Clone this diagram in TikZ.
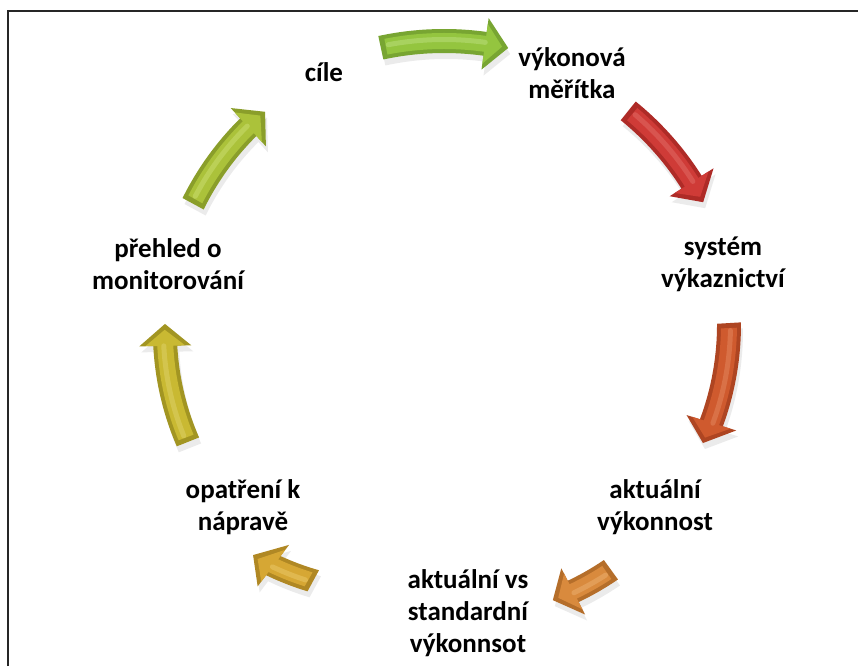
\documentclass[tikz,border=0pt]{standalone}
\usepackage{fontspec}
\setmainfont{Carlito}

% arrow colours: body, bevel edge, highlight
\definecolor{ca}{HTML}{94C53F}\definecolor{cadark}{HTML}{78A532}\definecolor{calight}{HTML}{B9DE7A}
\definecolor{cb}{HTML}{CF3B37}\definecolor{cbdark}{HTML}{AE2B27}\definecolor{cblight}{HTML}{E06A64}
\definecolor{cc}{HTML}{CF5A2E}\definecolor{ccdark}{HTML}{AE4522}\definecolor{cclight}{HTML}{E2845C}
\definecolor{cd}{HTML}{D98A3D}\definecolor{cddark}{HTML}{B56E2A}\definecolor{cdlight}{HTML}{EBAE6E}
\definecolor{ce}{HTML}{D6A734}\definecolor{cedark}{HTML}{B08824}\definecolor{celight}{HTML}{E9C766}
\definecolor{cf}{HTML}{C9B932}\definecolor{cfdark}{HTML}{A29522}\definecolor{cflight}{HTML}{DDD066}
\definecolor{cg}{HTML}{ABC23A}\definecolor{cgdark}{HTML}{8A9E2A}\definecolor{cglight}{HTML}{C9DC6E}

% radius along an arrow, interpolated between tail and tip
\newcommand\rad[1]{\rA+(\rT-\rA)*((#1)-\aA)/(\aT-\aA)}

% outline of a curved block arrow around the cycle centre
% #1 start angle of the tail, #2 half shaft width, #3 half head width, #4 tip pullback
\newcommand\arrpath[4]{%
  plot[domain=#1:\aB,samples=30] (\x:{\rad{\x}+#2})
  -- (\aB:{\rB+#3}) -- (\aT+#4:{\rT}) -- (\aB:{\rB-#3})
  -- plot[domain=\aB:#1,samples=30] (\x:{\rad{\x}-#2}) -- cycle}

% #1 tail angle, #2 tip angle, #3 tail radius, #4 tip radius, #5 colour
\newcommand\cycarrow[5]{%
  \begin{scope}[shift={(444,326)}]
    \pgfmathsetmacro\aA{#1}\pgfmathsetmacro\aT{#2}
    \pgfmathsetmacro\rA{#3}\pgfmathsetmacro\rT{#4}
    \pgfmathsetmacro\aB{\aT+4.5}
    \pgfmathsetmacro\rB{\rad{\aB}}
    \pgfmathsetmacro\aI{\aA-1.0}
    \fill[black,opacity=.08,shift={(2,-6)}] \arrpath{\aA}{12}{26}{0};
    \fill[#5dark] \arrpath{\aA}{12}{26}{0};
    \fill[#5] \arrpath{\aI}{8}{20}{1.2};
    \draw[#5light,line width=5pt,opacity=.55,line cap=round]
      plot[domain=\aI-0.5:\aB,samples=30] (\x:{\rad{\x}+1.5});
  \end{scope}}

\begin{document}
\begin{tikzpicture}[x=1pt,y=1pt,
  lbl/.style={font=\bfseries\fontsize{27}{32}\selectfont,align=center,inner sep=0pt,text=black}]
\useasboundingbox (0,0) rectangle (858,666);
\fill[white] (0,0) rectangle (858,666);

% frame
\draw[line width=2pt,black!85] (8,0) -- (8,655) -- (858,655);

% cycle arrows
\cycarrow{102.2}{77.6}{299}{299}{ca}
\cycarrow{51.2}{28}{294}{293.5}{cb}
\cycarrow{3.4}{-21.7}{285.5}{278.7}{cc}
\cycarrow{-54}{-67.3}{284}{282}{cd}
\cycarrow{-118.5}{-131.6}{274}{287.6}{ce}
\cycarrow{-158.3}{-183.3}{275.6}{279.5}{cf}
\cycarrow{151.5}{128.1}{285.5}{290}{cg}

% stage labels
\node[lbl] (cile) at (324,594) {cíle};
\node[lbl] (meritka) at (572,593) {výkonová\\měřítka};
\node[lbl] (vykaz) at (723,402) {systém\\výkaznictví};
\node[lbl] (aktual) at (655,159) {aktuální\\výkonnost};
\node[lbl] (srovnani) at (468,53) {aktuální vs\\standardní\\výkonnsot};
\node[lbl] (naprava) at (243,159) {opatření k\\nápravě};
\node[lbl] (prehled) at (168,402) {přehled o\\monitorování};
\end{tikzpicture}
\end{document}
